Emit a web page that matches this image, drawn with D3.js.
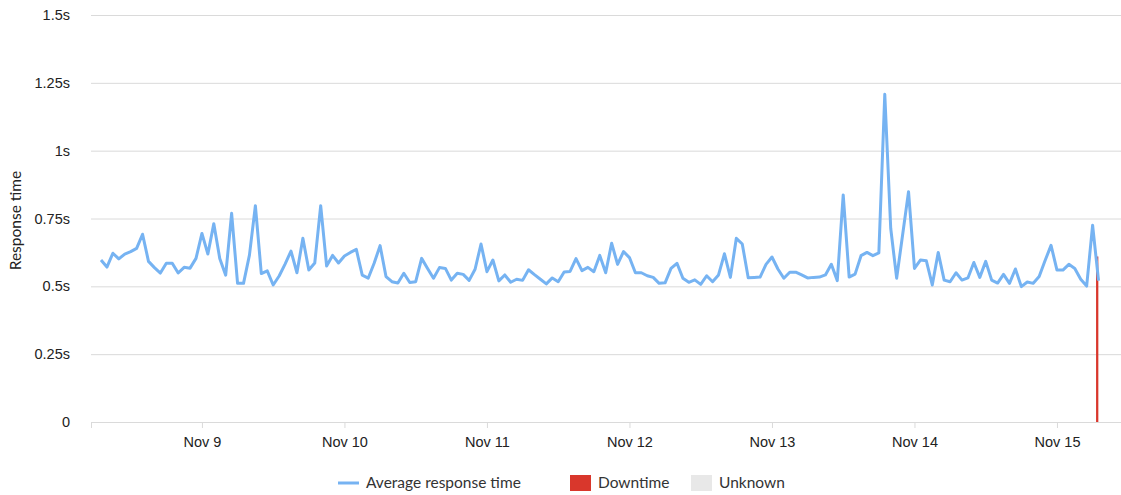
<!DOCTYPE html>
<html>
<head>
<meta charset="utf-8">
<script src="https://cdn.jsdelivr.net/npm/d3@7"></script>
<style>
  body { margin: 0; background: #fff; }
  svg { display: block; font-family: Lato, "Open Sans", sans-serif; }
  .grid line { stroke: #dadada; stroke-width: 1; }
  .axis text { fill: #222; font-size: 14.5px; }
  .legend text { fill: #333; font-size: 15.5px; }
</style>
</head>
<body>
<div id="chart"></div>
<script>
// hourly samples, first one at Nov 8 07:00
const startTime = Date.UTC(2021, 10, 8, 7)
const hour = 3600 * 1000

const responseTimes = [
    0.597, 0.571, 0.622, 0.601, 0.619, 0.628, 0.640, 0.692, 0.592, 0.569,
    0.549, 0.585, 0.585, 0.549, 0.570, 0.567, 0.603, 0.695, 0.619, 0.731,
    0.603, 0.541, 0.769, 0.511, 0.511, 0.615, 0.797, 0.547, 0.557,
    0.505, 0.538, 0.582, 0.630, 0.550, 0.677, 0.560, 0.586, 0.797, 0.575,
    0.614, 0.586, 0.612, 0.625, 0.636, 0.541, 0.530, 0.585, 0.650, 0.536,
    0.517, 0.512, 0.548, 0.514, 0.517, 0.603, 0.566, 0.530,
    0.569, 0.566, 0.523, 0.548, 0.544, 0.522, 0.563, 0.656, 0.554, 0.597,
    0.520, 0.542, 0.515, 0.526, 0.522, 0.561, 0.543, 0.526, 0.509, 0.531,
    0.517, 0.553, 0.555, 0.602, 0.558, 0.570, 0.554, 0.614, 0.550,
    0.659, 0.581, 0.628, 0.606, 0.550, 0.550, 0.539, 0.533, 0.511, 0.513,
    0.566, 0.585, 0.530, 0.515, 0.524, 0.507, 0.539, 0.517, 0.542, 0.620,
    0.533, 0.677, 0.656, 0.532, 0.533, 0.534, 0.581, 0.608, 0.564,
    0.530, 0.552, 0.552, 0.542, 0.531, 0.533, 0.534, 0.542, 0.581, 0.521,
    0.837, 0.534, 0.545, 0.613, 0.625, 0.613, 0.623, 1.208, 0.714, 0.530,
    0.689, 0.849, 0.566, 0.597, 0.594, 0.505, 0.625, 0.523,
    0.517, 0.550, 0.523, 0.531, 0.588, 0.533, 0.592, 0.523, 0.512, 0.544,
    0.511, 0.564, 0.499, 0.516, 0.511, 0.536, 0.595, 0.651, 0.560, 0.560,
    0.581, 0.566, 0.526, 0.501, 0.725, 0.521
]

// downtime periods: [start, end, height in seconds]
const downtimes = [
    [Date.UTC(2021, 10, 15, 6, 35), Date.UTC(2021, 10, 15, 6, 58), 0.61]
]

const xDomain = [Date.UTC(2021, 10, 8, 5, 19), Date.UTC(2021, 10, 15, 10, 47)]
const yTicks = [0, 0.25, 0.5, 0.75, 1, 1.25, 1.5]
const yTickLabels = ['0', '0.25s', '0.5s', '0.75s', '1s', '1.25s', '1.5s']

const legendItems = [
    { label: 'Average response time', kind: 'line', color: '#76b3f2' },
    { label: 'Downtime', kind: 'box', color: '#d9372c' },
    { label: 'Unknown', kind: 'box', color: '#e8e8e8' }
]

const width = 1121
const height = 495
const margin = { left: 91, top: 15, right: 0, bottom: 73 }

const points = responseTimes.map((v, i) => [new Date(startTime + i * hour), v])

const svg = d3.select('#chart')
    .append('svg')
    .attr('width', width)
    .attr('height', height)

const x = d3.scaleUtc()
    .domain(xDomain)
    .range([margin.left, width - margin.right])

const y = d3.scaleLinear()
    .domain([0, 1.5])
    .range([height - margin.bottom, margin.top])

// horizontal grid + y labels
const yAxis = d3.axisLeft(y)
    .tickValues(yTicks)
    .tickSize(-(width - margin.left - margin.right))
    .tickPadding(21)
    .tickFormat((d, i) => yTickLabels[i])

svg.append('g')
    .attr('class', 'axis grid')
    .attr('transform', `translate(${margin.left},0)`)
    .call(yAxis)
    .call(g => g.select('.domain').remove())

// x axis along the bottom
const xAxis = d3.axisBottom(x)
    .ticks(d3.utcDay.every(1))
    .tickFormat(d3.utcFormat('%b %-d'))
    .tickSize(6)
    .tickPadding(9)

svg.append('g')
    .attr('class', 'axis')
    .attr('transform', `translate(0,${y(0)})`)
    .call(xAxis)
    .call(g => g.select('.domain').attr('stroke', '#dadada'))
    .call(g => g.selectAll('.tick line').attr('stroke', '#dadada'))
    .call(g => g.selectAll('.tick').filter(d => x(d) < margin.left + 10).remove())

svg.append('text')
    .attr('transform', `translate(21,${(y(0) + y(1.5)) / 2 + 2}) rotate(-90)`)
    .attr('text-anchor', 'middle')
    .attr('fill', '#222')
    .style('font-size', '15.5px')
    .text('Response time')

svg.append('g')
    .selectAll('rect')
    .data(downtimes)
    .join('rect')
    .attr('x', d => x(d[0]))
    .attr('width', d => x(d[1]) - x(d[0]))
    .attr('y', d => y(d[2]))
    .attr('height', d => y(0) - y(d[2]))
    .attr('fill', legendItems[1].color)

const line = d3.line()
    .x(d => x(d[0]))
    .y(d => y(d[1]))

svg.append('path')
    .attr('d', line(points))
    .attr('fill', 'none')
    .attr('stroke', legendItems[0].color)
    .attr('stroke-width', 3)
    .attr('stroke-linejoin', 'round')

// legend
const legendX = [338, 570, 691]
const legend = svg.append('g')
    .attr('class', 'legend')
    .attr('transform', 'translate(0,483)')

legendItems.forEach((item, i) => {
    const g = legend.append('g').attr('transform', `translate(${legendX[i]},0)`)
    if (item.kind === 'line') {
        g.append('line')
            .attr('x1', 0).attr('x2', 21)
            .attr('stroke', item.color)
            .attr('stroke-width', 3)
    } else {
        g.append('rect')
            .attr('y', -8).attr('width', 21).attr('height', 16)
            .attr('fill', item.color)
    }
    g.append('text').attr('x', 28).attr('dy', '0.35em').text(item.label)
})
</script>
</body>
</html>
